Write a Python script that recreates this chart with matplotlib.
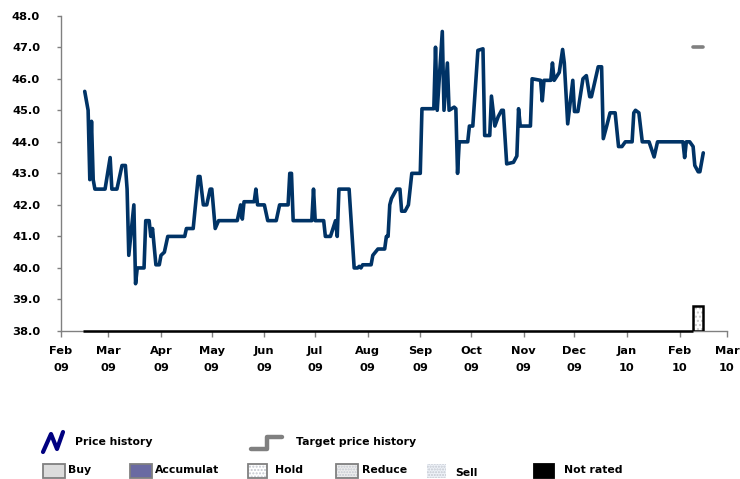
import numpy as np
import matplotlib
matplotlib.use("Agg")
import matplotlib.pyplot as plt
import matplotlib.dates as mdates
from matplotlib.patches import Rectangle

# ---- price history (daily close, turning points) ----
price_dates = [
    "2009-02-15", "2009-02-17", "2009-02-18", "2009-02-19", "2009-02-20", "2009-02-21",
    "2009-02-27", "2009-03-02", "2009-03-03", "2009-03-06", "2009-03-09", "2009-03-11",
    "2009-03-12", "2009-03-13", "2009-03-16", "2009-03-17", "2009-03-18", "2009-03-22",
    "2009-03-23", "2009-03-25", "2009-03-26", "2009-03-27", "2009-03-29", "2009-03-31",
    "2009-04-01", "2009-04-03", "2009-04-05", "2009-04-15", "2009-04-16", "2009-04-20",
    "2009-04-23", "2009-04-24", "2009-04-26", "2009-04-28", "2009-04-30", "2009-05-01",
    "2009-05-03", "2009-05-05", "2009-05-16", "2009-05-18", "2009-05-19", "2009-05-20",
    "2009-05-26", "2009-05-27", "2009-05-28", "2009-06-01", "2009-06-03", "2009-06-08",
    "2009-06-10", "2009-06-15", "2009-06-16", "2009-06-17", "2009-06-18", "2009-06-29",
    "2009-06-30", "2009-07-01", "2009-07-06", "2009-07-07", "2009-07-10", "2009-07-13",
    "2009-07-14", "2009-07-15", "2009-07-21", "2009-07-24", "2009-07-26", "2009-07-27",
    "2009-07-28", "2009-07-29", "2009-08-03", "2009-08-04", "2009-08-07", "2009-08-11",
    "2009-08-12", "2009-08-13", "2009-08-14", "2009-08-15", "2009-08-18", "2009-08-20",
    "2009-08-21", "2009-08-23", "2009-08-25", "2009-08-27", "2009-09-01", "2009-09-02",
    "2009-09-09", "2009-09-10", "2009-09-11", "2009-09-14", "2009-09-15", "2009-09-17",
    "2009-09-18", "2009-09-21", "2009-09-22", "2009-09-23", "2009-09-24", "2009-09-29",
    "2009-09-30", "2009-10-02", "2009-10-05", "2009-10-08", "2009-10-09", "2009-10-12",
    "2009-10-13", "2009-10-15", "2009-10-17", "2009-10-19", "2009-10-20", "2009-10-22",
    "2009-10-26", "2009-10-28", "2009-10-29", "2009-10-30", "2009-11-05", "2009-11-06",
    "2009-11-11", "2009-11-12", "2009-11-13", "2009-11-17", "2009-11-18", "2009-11-19",
    "2009-11-22", "2009-11-24", "2009-11-25", "2009-11-27", "2009-11-30", "2009-12-01",
    "2009-12-03", "2009-12-06", "2009-12-08", "2009-12-10", "2009-12-11", "2009-12-15",
    "2009-12-17", "2009-12-18", "2009-12-20", "2009-12-22", "2009-12-25", "2009-12-27",
    "2009-12-29", "2009-12-31", "2010-01-04", "2010-01-05", "2010-01-06", "2010-01-08",
    "2010-01-10", "2010-01-14", "2010-01-17", "2010-01-19", "2010-02-03", "2010-02-04",
    "2010-02-05", "2010-02-07", "2010-02-09", "2010-02-10", "2010-02-12", "2010-02-13",
    "2010-02-15",
]
price_values = [
    45.6, 45.0, 42.8, 44.65, 42.8, 42.5,
    42.5, 43.5, 42.5, 42.5, 43.25, 43.25,
    42.5, 40.4, 42.0, 39.5, 40.0, 40.0,
    41.5, 41.5, 41.0, 41.25, 40.1, 40.1,
    40.4, 40.5, 41.0, 41.0, 41.25, 41.25,
    42.9, 42.9, 42.0, 42.0, 42.5, 42.5,
    41.25, 41.5, 41.5, 42.0, 41.55, 42.1,
    42.1, 42.5, 42.0, 42.0, 41.5, 41.5,
    42.0, 42.0, 43.0, 43.0, 41.5, 41.5,
    42.5, 41.5, 41.5, 41.0, 41.0, 41.5,
    41.0, 42.5, 42.5, 40.0, 40.0, 40.05,
    40.0, 40.1, 40.1, 40.4, 40.6, 40.6,
    41.0, 41.0, 42.0, 42.2, 42.5, 42.5,
    41.8, 41.8, 42.0, 43.0, 43.0, 45.05,
    45.05, 47.0, 45.0, 47.5, 45.0, 46.5,
    45.0, 45.1, 45.05, 43.0, 44.0, 44.0,
    44.5, 44.5, 46.9, 46.95, 44.2, 44.2,
    45.45, 44.5, 44.8, 45.0, 45.0, 43.3,
    43.35, 43.55, 45.05, 44.5, 44.5, 46.0,
    45.95, 45.3, 45.95, 45.95, 46.5, 45.95,
    46.2, 46.93, 46.5, 44.57, 45.95, 44.96,
    44.96, 46.0, 46.1, 45.43, 45.43, 46.38,
    46.38, 44.1, 44.5, 44.92, 44.92, 43.85,
    43.85, 44.0, 44.0, 44.92, 45.0, 44.92,
    44.0, 44.0, 43.52, 44.0, 44.0, 43.5,
    44.0, 44.0, 43.85, 43.25, 43.05, 43.05,
    43.65,
]

# ---- target price history ----
target_dates = ["2010-02-09", "2010-02-15"]
target_values = [47.0, 47.0]

# ---- rating history ----
rating_names = ["Not rated", "Hold"]
rating_start = ["2009-02-14", "2010-02-09"]
rating_end = ["2010-02-09", "2010-02-15"]
rating_level = [38.0, 38.8]

month_ticks = [
    "2009-02-01", "2009-03-01", "2009-04-01", "2009-05-01", "2009-06-01",
    "2009-07-01", "2009-08-01", "2009-09-01", "2009-10-01", "2009-11-01",
    "2009-12-01", "2010-01-01", "2010-02-01", "2010-03-01",
]
y_ticks = [38.0, 39.0, 40.0, 41.0, 42.0, 43.0, 44.0, 45.0, 46.0, 47.0, 48.0]

NAVY = "#003366"
GREY = "#808080"
FONT = "DejaVu Sans"

plt.rcParams["font.family"] = FONT
plt.rcParams["font.weight"] = "bold"

def d(s):
    return mdates.date2num(np.datetime64(s))

W, H = 740, 479
fig = plt.figure(figsize=(W / 100, H / 100), dpi=100)
ax = fig.add_axes([61 / W, (H - 331) / H, 666 / W, (331 - 15.7) / H])

ax.set_xlim(d(month_ticks[0]), d(month_ticks[-1]))
ax.set_ylim(y_ticks[0], y_ticks[-1])

# rating bars
base = y_ticks[0]
for name, s, e, lvl in zip(rating_names, rating_start, rating_end, rating_level):
    x0, x1 = d(s), d(e)
    if name == "Not rated":
        ax.plot([x0, x1], [base, base], color="black", lw=1.8, zorder=4,
                solid_capstyle="butt", clip_on=False)
    else:
        ax.add_patch(Rectangle((x0, base), x1 - x0, lvl - base, facecolor="white",
                               edgecolor="#c8c8c8", hatch="....", lw=0, zorder=3))
        ax.add_patch(Rectangle((x0, base), x1 - x0, lvl - base, facecolor="none",
                               edgecolor="black", lw=1.8, zorder=4))

# target price
ax.plot([d(s) for s in target_dates], target_values, color=GREY, lw=2.6,
        solid_capstyle="round", zorder=5)

# price history
ax.plot([d(s) for s in price_dates], price_values, color=NAVY, lw=2.6,
        solid_joinstyle="round", solid_capstyle="round", zorder=6)

for side in ("top", "right"):
    ax.spines[side].set_visible(False)
for side in ("left", "bottom"):
    ax.spines[side].set_color(GREY)
    ax.spines[side].set_linewidth(1.0)

ax.set_yticks(y_ticks)
ax.set_yticklabels([f"{v:.1f}" for v in y_ticks])
ax.set_xticks([d(s) for s in month_ticks])
ax.xaxis.set_major_formatter(mdates.DateFormatter("%b\n%y"))
ax.tick_params(axis="y", length=3, width=1, color=GREY, pad=12, labelsize=8.2)
ax.tick_params(axis="x", length=4, width=1, color=GREY, pad=7, labelsize=8.2)
for lbl in ax.get_xticklabels():
    lbl.set_linespacing(1.85)
    lbl.set_fontweight("bold")
for lbl in ax.get_yticklabels():
    lbl.set_fontweight("bold")

# ---- legend drawn in pixel coordinates ----
lg = fig.add_axes([0, 0, 1, 1], zorder=10)
lg.set_xlim(0, W)
lg.set_ylim(H, 0)
lg.axis("off")
lg.patch.set_alpha(0)

lg.plot([43, 51, 57, 63], [452, 434, 449, 432], color="#000080", lw=3.0,
        solid_joinstyle="round", solid_capstyle="round")
lg.text(75, 442, "Price history", fontsize=7.8, fontweight="bold", va="center")
lg.plot([251, 267, 267, 282], [449, 449, 437, 437], color=GREY, lw=3.2,
        solid_joinstyle="round", solid_capstyle="round")
lg.text(296, 442, "Target price history", fontsize=7.8, fontweight="bold", va="center")

boxes = [
    ("Buy", 43, 65, "#dcdcdc", GREY, None, 68, 470),
    ("Accumulat", 130, 152, "#6a6aa2", GREY, None, 155, 470),
    ("Hold", 248, 267, "white", GREY, ".....", 275, 470),
    ("Reduce", 336, 358, "#eeeeee", GREY, "......", 362, 470),
    ("Sell", 427, 446, "#eef2f8", "none", "......", 455, 473),
    ("Not rated", 534, 554, "black", "black", None, 564, 470),
]
for label, bx0, bx1, fc, ec, hatch, tx, ty in boxes:
    if hatch:
        lg.add_patch(Rectangle((bx0, 464), bx1 - bx0, 14, facecolor=fc,
                               edgecolor="#c4c8d0", hatch=hatch, lw=0))
        if ec != "none":
            lg.add_patch(Rectangle((bx0, 464), bx1 - bx0, 14, facecolor="none",
                                   edgecolor=ec, lw=1.3))
    else:
        lg.add_patch(Rectangle((bx0, 464), bx1 - bx0, 14, facecolor=fc,
                               edgecolor=ec, lw=1.3))
    lg.text(tx, ty, label, fontsize=7.8, fontweight="bold", va="center")

fig.savefig("out.png", dpi=100)
